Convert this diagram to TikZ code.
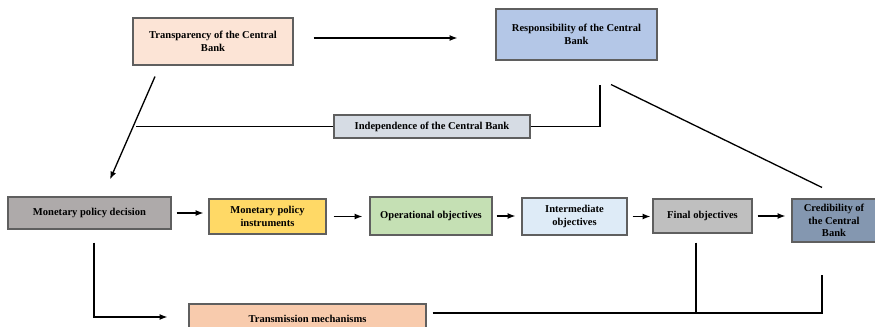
\documentclass[tikz,border=0pt]{standalone}
\usepackage{fontspec}
\setmainfont{Liberation Serif}
\usepackage{xcolor}
\usepackage{tikz}
\usetikzlibrary{arrows.meta,positioning}
\definecolor{trancol}{HTML}{FCE4D6}
\definecolor{respcol}{HTML}{B4C7E7}
\definecolor{indcol}{HTML}{D6DCE4}
\definecolor{deccol}{HTML}{AEAAAA}
\definecolor{instcol}{HTML}{FFD966}
\definecolor{opcol}{HTML}{C5E0B4}
\definecolor{intcol}{HTML}{DEEBF7}
\definecolor{fincol}{HTML}{BFBFBF}
\definecolor{credcol}{HTML}{8497B0}
\definecolor{tmcol}{HTML}{F8CBAD}
\definecolor{edgecol}{HTML}{5F5F5F}
\tikzset{
box/.style={draw=edgecol,line width=0.6pt,align=center,inner sep=1pt,
  font=\bfseries\fontsize{6}{7.3}\selectfont},
arr/.style={-{Latex[length=4.5pt,width=3.4pt]},line width=0.75pt},
lin/.style={line width=0.75pt}
}
\begin{document}
\begin{tikzpicture}
\useasboundingbox (0,0) rectangle (17.5,6.52);
\node[box,fill=trancol,minimum width=3.2cm,minimum height=0.94cm](tran) at (4.26,5.69){Transparency of the Central\\Bank};
\node[box,fill=respcol,minimum width=3.22cm,minimum height=1.02cm](resp) at (11.53,5.83){Responsibility of the Central\\Bank};
\node[box,fill=indcol,minimum width=3.92cm,minimum height=0.46cm](ind) at (8.64,3.99){Independence of the Central Bank};
\node[box,fill=deccol,minimum width=3.26cm,minimum height=0.64cm](dec) at (1.79,2.26){Monetary policy decision};
\node[box,fill=instcol,minimum width=2.34cm,minimum height=0.70cm](inst) at (5.35,2.19){Monetary policy\\instruments};
\node[box,fill=opcol,minimum width=2.44cm,minimum height=0.76cm](oper) at (8.62,2.20){Operational objectives};
\node[box,fill=intcol,minimum width=2.10cm,minimum height=0.74cm](inter) at (11.49,2.19){Intermediate\\objectives};
\node[box,fill=fincol,minimum width=1.98cm,minimum height=0.68cm](fin) at (14.05,2.20){Final objectives};
\node[box,fill=credcol,minimum width=1.68cm,minimum height=0.86cm](cred) at (16.68,2.11){Credibility of\\the Central\\Bank};
\node[box,fill=tmcol,minimum width=4.74cm,minimum height=0.6cm](tm) at (6.15,0.14){Transmission mechanisms};
\draw[arr]([xshift=0.4cm,yshift=0.07cm]tran.east)--([xshift=-0.76cm,yshift=0.07cm]tran.east-|resp.west);
\draw[arr]([xshift=-1.16cm,yshift=-0.22cm]tran.south)--([xshift=0.41cm,yshift=0.34cm]dec.north);
\draw[lin](ind.west)--++(-3.94,0);
\draw[lin](ind.east)-|([xshift=0.47cm,yshift=-0.48cm]resp.south);
\draw[lin]([xshift=0.69cm,yshift=-0.48cm]resp.south)--([xshift=-0.24cm,yshift=0.22cm]cred.north);
\draw[arr]([xshift=0.1cm]dec.east)--([xshift=-0.1cm]dec.east-|inst.west);
\draw[arr]([xshift=0.14cm]inst.east)--([xshift=-0.14cm]inst.east-|oper.west);
\draw[arr]([xshift=0.08cm]oper.east)--([xshift=-0.12cm]oper.east-|inter.west);
\draw[arr]([xshift=0.1cm]inter.east)--([xshift=-0.04cm]inter.east-|fin.west);
\draw[arr]([xshift=0.1cm]fin.east)--([xshift=-0.12cm]fin.east-|cred.west);
\draw[arr]([xshift=0.09cm,yshift=-0.26cm]dec.south)|-([xshift=-0.42cm,yshift=0.04cm]tm.west);
\coordinate(tmout) at ([xshift=0.12cm,yshift=0.12cm]tm.east);
\draw[lin](tmout)-|([xshift=-0.24cm,yshift=-0.64cm]cred.south);
\draw[lin]([xshift=-0.13cm,yshift=-0.18cm]fin.south)coordinate(fo)--(fo|-tmout);
\end{tikzpicture}
\end{document}
